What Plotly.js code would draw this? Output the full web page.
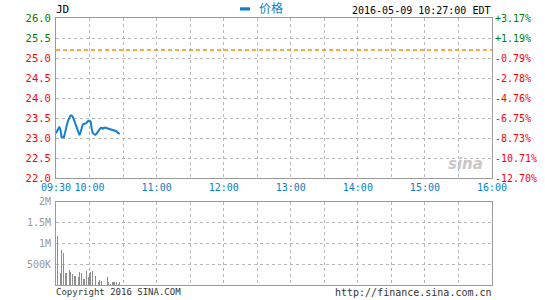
<!DOCTYPE html>
<html><head><meta charset="utf-8">
<script src="https://cdn.plot.ly/plotly-3.0.1.min.js"></script>
<style>html,body{margin:0;padding:0;background:#fff}#chart{width:545px;height:300px}</style>
</head><body><div id="chart"></div>
<script>
const symbol = 'JD';
const stampText = '2016-05-09 10:27:00 EDT';
const seriesName = '价格';
const tradeDate = '2016-05-09';
const prevClose = 25.20;

const priceTimes = ['09:30','09:31','09:32','09:33','09:34','09:35','09:36','09:37','09:38','09:39',
  '09:40','09:41','09:42','09:43','09:44','09:45','09:46','09:47','09:48','09:49',
  '09:50','09:51','09:52','09:53','09:54','09:55','09:56','09:57','09:58','09:59',
  '10:00','10:01','10:02','10:03','10:04','10:05','10:06','10:07','10:08','10:09',
  '10:10','10:11','10:12','10:13','10:14','10:15','10:16','10:17','10:18','10:19',
  '10:20','10:21','10:22','10:23','10:24','10:25','10:26','10:27'];
const priceValues = [23.12,23.18,23.22,23.28,23.20,23.02,23.02,23.02,23.12,23.28,
  23.36,23.45,23.52,23.56,23.56,23.53,23.46,23.38,23.30,23.18,
  23.10,23.07,23.15,23.25,23.34,23.35,23.36,23.37,23.40,23.43,
  23.43,23.41,23.22,23.12,23.10,23.08,23.10,23.13,23.18,23.22,
  23.25,23.25,23.23,23.25,23.26,23.25,23.24,23.24,23.23,23.22,
  23.21,23.20,23.19,23.18,23.17,23.14,23.12,23.10];

const volumeTimes = ['09:31','09:34','09:35','09:37','09:39','09:42','09:43','09:45','09:47','09:50',
  '09:51','09:53','09:55','09:57','09:59','10:00','10:01','10:03','10:05','10:08',
  '10:09','10:11','10:16','10:17','10:19','10:21','10:22','10:24','10:26','10:27'];
const volumeValues = [1170000,295000,840000,770000,295000,360000,310000,260000,220000,200000,
  310000,290000,150000,340000,200000,290000,310000,340000,220000,80000,
  120000,100000,200000,70000,20000,70000,70000,70000,30000,70000];

const timeTickVals = ['09:30','10:00','10:30','11:00','11:30','12:00','12:30','13:00','13:30','14:00','14:30','15:00','15:30','16:00'];
const timeTickText = ['09:30','10:00','','11:00','','12:00','','13:00','','14:00','','15:00','','16:00'];
const priceTickVals = [22,22.5,23,23.5,24,24.5,25,25.5,26];
const volumeTickVals = [500000,1000000,1500000,2000000];
const volumeTickText = ['500K','1M','1.5M','2M'];

const d = t => tradeDate + ' ' + t;
const GREEN = '#008000', RED = '#ff0000', BLUE = '#0a7fd0', GRAY = '#999999';
const MONO = '"DejaVu Sans Mono", "Liberation Mono", monospace';

const colorFor = v => v > prevClose ? GREEN : RED;
const leftText = priceTickVals.map(v => `<span style="color:${colorFor(v)}">${v.toFixed(1)}</span>`);
const rightText = priceTickVals.map(v => {
  const p = (v / prevClose - 1) * 100;
  const s = (p >= 0 ? '+' : '') + p.toFixed(2) + '%';
  return `<span style="color:${colorFor(v)}">${s}</span>`;
});

const traces = [
  {x: priceTimes.map(d), y: priceValues, type: 'scatter', mode: 'lines', name: seriesName,
   line: {color: '#1580cf', width: 2}, xaxis: 'x', yaxis: 'y', hoverinfo: 'skip'},
  {x: priceTimes.map(d), y: priceValues, type: 'scatter', mode: 'lines', showlegend: false,
   line: {color: 'rgba(0,0,0,0)', width: 0}, xaxis: 'x', yaxis: 'y2', hoverinfo: 'skip'},
  {x: volumeTimes.map(d), y: volumeValues, type: 'bar', marker: {color: '#8f8f8f', line: {width: 0}},
   width: 62000, xaxis: 'x2', yaxis: 'y3', hoverinfo: 'skip'}
];

const xCommon = {
  type: 'date', range: [d('09:30'), d('16:00')], tickmode: 'array',
  tickvals: timeTickVals.map(d), ticktext: timeTickText,
  showgrid: true, gridcolor: '#b8b8b8', griddash: 'dot', gridwidth: 1,
  showline: true, linecolor: GRAY, linewidth: 1, mirror: true, ticks: '', zeroline: false,
  tickfont: {family: MONO, size: 10, color: BLUE}
};

const layout = {
  width: 545, height: 300,
  margin: {l: 56, r: 53, t: 18, b: 15},
  paper_bgcolor: '#fff', plot_bgcolor: '#fff',
  showlegend: false,
  font: {family: MONO, size: 10},
  xaxis: Object.assign({}, xCommon, {anchor: 'y', domain: [0, 1]}),
  xaxis2: Object.assign({}, xCommon, {anchor: 'y3', domain: [0, 1], showticklabels: false, matches: 'x'}),
  yaxis: {
    domain: [0.4007, 1], range: [22, 26], tickmode: 'array', tickvals: priceTickVals, ticktext: leftText,
    showgrid: true, gridcolor: '#b8b8b8', griddash: 'dot', gridwidth: 1, zeroline: false,
    showline: true, linecolor: GRAY, linewidth: 1, mirror: true, ticks: '',
    tickfont: {family: MONO, size: 10.5, color: RED}, ticklabelstandoff: 2
  },
  yaxis2: {
    overlaying: 'y', side: 'right', anchor: 'x', range: [22, 26], tickmode: 'array',
    tickvals: priceTickVals, ticktext: rightText, showgrid: false, zeroline: false, ticks: '',
    tickfont: {family: MONO, size: 10, color: RED}, ticklabelstandoff: 2
  },
  yaxis3: {
    domain: [0, 0.3127], anchor: 'x2', range: [0, 2000000], tickmode: 'array',
    tickvals: volumeTickVals, ticktext: volumeTickText,
    showgrid: true, gridcolor: '#b8b8b8', griddash: 'dot', gridwidth: 1, zeroline: false,
    showline: true, linecolor: GRAY, linewidth: 1, mirror: true, ticks: '',
    tickfont: {family: MONO, size: 10, color: GRAY}, ticklabelstandoff: 2
  },
  bargap: 0,
  shapes: [
    {type: 'line', xref: 'x domain', x0: 0, x1: 1, yref: 'y', y0: prevClose, y1: prevClose,
     line: {color: '#ff8c00', width: 1.5, dash: '4px,3px'}},
    {type: 'rect', xref: 'paper', yref: 'paper', x0: 0.4220, x1: 0.4450, y0: 1.0280, y1: 1.0400,
     fillcolor: BLUE, line: {width: 0}}
  ],
  annotations: [
    {text: symbol, xref: 'paper', yref: 'paper', x: 0, y: 1, xanchor: 'left', yanchor: 'bottom',
     showarrow: false, font: {family: MONO, size: 11, color: '#000'}, xshift: -2},
    {text: seriesName, xref: 'paper', yref: 'paper', x: 0.4600, y: 1, xanchor: 'left', yanchor: 'bottom',
     showarrow: false, font: {family: '"Noto Sans CJK SC", sans-serif', size: 12, color: BLUE}},
    {text: stampText, xref: 'paper', yref: 'paper', x: 1, y: 1, xanchor: 'right', yanchor: 'bottom',
     showarrow: false, font: {family: MONO, size: 10, color: '#000'}},
    {text: 'Copyright 2016 SINA.COM', xref: 'paper', yref: 'paper', x: 0, y: 0, xanchor: 'left', yanchor: 'top',
     showarrow: false, font: {family: MONO, size: 9, color: '#333'}, xshift: -2},
    {text: 'http://finance.sina.com.cn', xref: 'paper', yref: 'paper', x: 1, y: 0, xanchor: 'right', yanchor: 'top',
     showarrow: false, font: {family: MONO, size: 10, color: '#333'}, xshift: 2},
    {text: '<b><i>sina</i></b>', xref: 'paper', yref: 'paper', x: 0.985, y: 0.455, xanchor: 'right', yanchor: 'middle',
     showarrow: false, font: {family: '"DejaVu Sans", sans-serif', size: 15, color: '#c8c8c8'}}
  ]
};

Plotly.newPlot('chart', traces, layout, {staticPlot: true, displayModeBar: false});
</script>
</body></html>
